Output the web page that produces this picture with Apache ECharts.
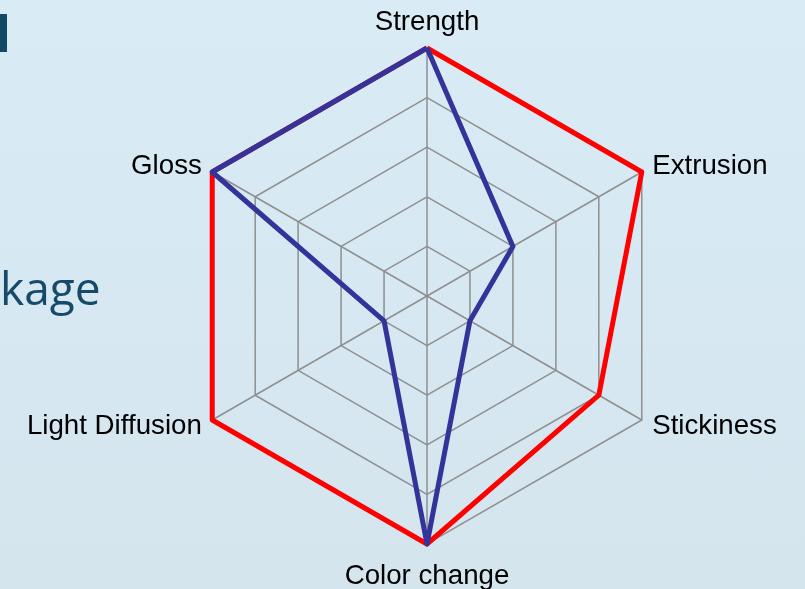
<!DOCTYPE html>
<html>
<head>
<meta charset="utf-8">
<script src="https://cdn.jsdelivr.net/npm/echarts@6/dist/echarts.min.js"></script>
<style>
html,body{margin:0;padding:0;}
body{width:805px;height:589px;background:linear-gradient(180deg,#d9ebf5 0%,#d4e5ee 100%);overflow:hidden;}
#chart{width:805px;height:589px;}
</style>
</head>
<body>
<div id="chart"></div>
<script>
var indicatorNames = ['Strength', 'Gloss', 'Light Diffusion', 'Color change', 'Stickiness', 'Extrusion'];
var indicatorMax = 5;
var redValues = [5, 5, 5, 5, 4, 5];
var blueValues = [5, 5, 1, 5, 1, 2];
var titleFragment = 'kage';

var chart = echarts.init(document.getElementById('chart'), null, {renderer: 'canvas'});
chart.setOption({
  backgroundColor: 'transparent',
  animation: false,
  graphic: [
    {type: 'rect', left: 0, top: 14, shape: {width: 7, height: 38}, style: {fill: '#124a66'}},
    {type: 'text', left: 0, top: 269, style: {text: titleFragment, fill: '#154a68', font: '46px "Open Sans"'}}
  ],
  radar: {
    center: [427, 296],
    radius: 248,
    startAngle: 90,
    splitNumber: 5,
    shape: 'polygon',
    indicator: indicatorNames.map(function (n) { return {name: n, min: 0, max: indicatorMax}; }),
    axisName: {color: '#000', fontFamily: 'Liberation Sans', fontSize: 27.7, padding: [6, 0, 0, 0]},
    nameGap: 12,
    splitLine: {lineStyle: {color: '#8f8f8f', width: 1.5}},
    splitArea: {show: false},
    axisLine: {lineStyle: {color: '#8f8f8f', width: 1.5}}
  },
  series: [{
    type: 'radar',
    symbol: 'none',
    data: [
      {value: redValues, lineStyle: {color: '#ff0000', width: 5}},
      {value: blueValues, lineStyle: {color: '#333399', width: 5}}
    ]
  }]
});
</script>
</body>
</html>
